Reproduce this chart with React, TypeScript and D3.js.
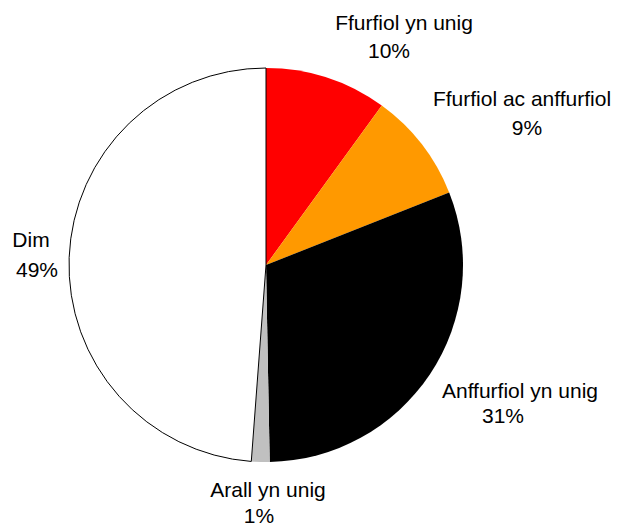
import React from "react";
import * as d3 from "d3";

const categories = [
  "Ffurfiol yn unig",
  "Ffurfiol ac anffurfiol",
  "Anffurfiol yn unig",
  "Arall yn unig",
  "Dim",
];
const values = [10, 9, 30.7, 1.49, 48.81];
const colors = ["#ff0000", "#ff9900", "#000000", "#c0c0c0", "#ffffff"];

// label line centers / baselines (layout only)
const labelLayout = [
  { x1: 404, y1: 30, x2: 389, y2: 58 },
  { x1: 522, y1: 106, x2: 527, y2: 135 },
  { x1: 520, y1: 398, x2: 503, y2: 423 },
  { x1: 268, y1: 497, x2: 259, y2: 523 },
  { x1: 31, y1: 247, x2: 37, y2: 277 },
];

export default function App() {
  const W = 617;
  const H = 526;
  const cx = 266;
  const cy = 265;
  const r = 197;
  const pie = d3.pie<number>().sort(null).value((d) => d);
  const arcs = pie(values);
  const arc = d3.arc<d3.PieArcDatum<number>>().innerRadius(0).outerRadius(r);
  const total = d3.sum(values);
  return (
    <svg
      width={W}
      height={H}
      style={{ position: "absolute", left: 0, top: 0, background: "#fff" }}
      fontFamily="'Liberation Sans', Arial, sans-serif"
    >
      <g transform={`translate(${cx},${cy})`}>
        {arcs.map((a, i) => (
          <path
            key={i}
            d={arc(a) || ""}
            fill={colors[i]}
            stroke={i === 4 ? "#000" : "none"}
            strokeWidth={1}
          />
        ))}
      </g>
      {arcs.map((a, i) => {
        const L = labelLayout[i];
        const pct = Math.round((values[i] / total) * 100) + "%";
        return (
          <g key={i} fontSize={21} fill="#000" textAnchor="middle">
            <text x={L.x1} y={L.y1}>{categories[i]}</text>
            <text x={L.x2} y={L.y2}>{pct}</text>
          </g>
        );
      })}
    </svg>
  );
}
